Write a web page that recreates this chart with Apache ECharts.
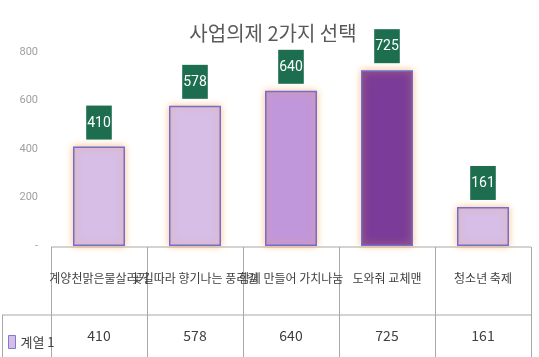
<!DOCTYPE html>
<html><head><meta charset="utf-8">
<script src="https://cdn.jsdelivr.net/npm/echarts@6/dist/echarts.min.js"></script>
<style>html,body{margin:0;padding:0;background:#fff}#c{width:539px;height:357px}</style>
</head><body><div id="c"></div>
<script>
const title = '사업의제 2가지 선택';
const categories = ['계양천맑은물살리기', '꽃길따라 향기나는 풍리길', '함께 만들어 가치나눔', '도와줘 교체맨', '청소년 축제'];
const values = [410, 578, 640, 725, 161];
const seriesName = '계열 1';
const yTicks = [0, 200, 400, 600, 800];
const barColors = ['#d6bee7', '#d6bee7', '#c197db', '#7a3c98', '#d6bee7'];

const W = 539, H = 357;
const gridLeft = 51, gridRight = 8, gridTop = 52, axisY = 246;
const plotW = W - gridLeft - gridRight;
const catW = plotW / categories.length;
const tableTop = axisY + 1, tableMid = 315;
const lineColor = '#a8a8a8';

const graphics = [];
graphics.push({type:'line', shape:{x1:gridLeft, y1:tableTop, x2:W-gridRight, y2:tableTop}, style:{stroke:lineColor, lineWidth:1}});
graphics.push({type:'line', shape:{x1:2, y1:tableMid, x2:W-gridRight, y2:tableMid}, style:{stroke:lineColor, lineWidth:1}});
graphics.push({type:'line', shape:{x1:2.5, y1:tableMid, x2:2.5, y2:H}, style:{stroke:lineColor, lineWidth:1}});
for (let i = 0; i <= categories.length; i++) {
  const x = Math.round(gridLeft + i * catW) + 0.5;
  graphics.push({type:'line', shape:{x1:x, y1:tableTop, x2:x, y2:H}, style:{stroke:lineColor, lineWidth:1}});
}

const chart = echarts.init(document.getElementById('c'));
chart.setOption({
  animation: false,
  title: {text: title, left: 268, textAlign: 'center', top: 18,
    textStyle: {fontFamily: 'Noto Sans CJK KR', fontSize: 20, fontWeight: 'normal', color: '#595959'}},
  legend: {data: [seriesName], left: 3, top: 330, icon: 'rect', itemWidth: 7, itemHeight: 13, itemGap: 4,
    textStyle: {fontFamily: 'Noto Sans CJK KR', fontSize: 13, color: '#404040'},
    itemStyle: {color: '#d6bee7', borderColor: '#7b7bd6', borderWidth: 1}},
  grid: {left: gridLeft, right: gridRight, top: gridTop, bottom: H - axisY},
  xAxis: [
    {type: 'category', data: categories,
      axisLine: {show: false}, axisTick: {show: false},
      axisLabel: {interval: 0, margin: 26, fontFamily: 'Noto Sans CJK KR', fontSize: 12, color: '#404040', overflow: 'none'}},
    {type: 'category', data: values.map(String), position: 'bottom',
      axisLine: {show: false}, axisTick: {show: false},
      axisLabel: {interval: 0, margin: 83, fontFamily: 'Noto Sans CJK KR', fontSize: 14, color: '#404040'}}
  ],
  yAxis: {type: 'value', min: yTicks[0], max: yTicks[yTicks.length-1], interval: 200,
    splitLine: {show: false}, axisLine: {show: false}, axisTick: {show: false},
    axisLabel: {margin: 13, fontFamily: 'Roboto', fontSize: 11, color: '#a0a0a0',
      formatter: v => v === 0 ? '-' : String(v)}},
  series: [{
    name: seriesName, type: 'bar', xAxisIndex: 0, barWidth: 52,
    itemStyle: {color: '#d6bee7', borderColor: '#6f6fd0', borderWidth: 1.5,
      shadowColor: 'rgba(255,160,80,0.8)', shadowBlur: 7},
    data: values.map((v, i) => ({value: v, itemStyle: {color: barColors[i]}})),
    label: {show: true, position: 'top', distance: 7, backgroundColor: '#1d6e4f',
      color: '#ffffff', fontFamily: 'Roboto', fontSize: 14, padding: [9, 1, 8, 1],
      lineHeight: 17}
  }],
  graphic: graphics
});
</script></body></html>
